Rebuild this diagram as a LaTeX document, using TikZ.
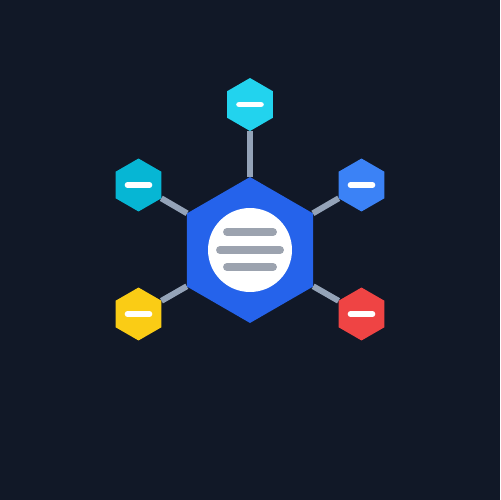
\documentclass[tikz,border=0pt]{standalone}
\usepackage{tikz}
\usetikzlibrary{shapes.geometric, calc}

\definecolor{bgnavy}{HTML}{111827}
\definecolor{hubblue}{HTML}{2563EB}
\definecolor{linkgray}{HTML}{94A3B8}
\definecolor{bargray}{HTML}{9CA3AF}
\definecolor{hexcyan}{HTML}{22D3EE}
\definecolor{hexteal}{HTML}{06B6D4}
\definecolor{hexblue}{HTML}{3B82F6}
\definecolor{hexyellow}{HTML}{FACC15}
\definecolor{hexred}{HTML}{EF4444}

\begin{document}
\begin{tikzpicture}[x=0.02cm, y=-0.02cm,
    hexa/.style={regular polygon, regular polygon sides=6, shape border rotate=30,
        inner sep=0pt, outer sep=0pt},
    hub/.style={hexa, fill=hubblue, minimum size=2.92cm},
    leaf/.style={hexa, fill=#1, minimum size=1.06cm},
    link/.style={linkgray, line width=3.4pt},
    bar/.style={line width=4.5pt, line cap=round, bargray},
    minusbar/.style={line width=3.2pt, line cap=round, white}]
				\fill[bgnavy] (0, 0) rectangle (500, 500);
				\node[hub] (C) at (250, 250) {};
				\node[leaf=hexcyan] (T) at (250, 104.5) {};
				\node[leaf=hexteal] (TL) at (138.5, 185) {};
				\node[leaf=hexblue] (TR) at (361.5, 185) {};
				\node[leaf=hexyellow] (BL) at (138.5, 314) {};
				\node[leaf=hexred] (BR) at (361.5, 314) {};
				\draw[link] (C) -- (T);
				\draw[link] (C) -- (TL);
				\draw[link] (C) -- (TR);
				\draw[link] (C) -- (BL);
				\draw[link] (C) -- (BR);
				\node[circle, fill=white, minimum size=1.68cm, inner sep=0pt] (M) at (C) {};
				\draw[bar] ($(M)+(-23, -18)$) -- ($(M)+(23, -18)$);
				\draw[bar] ($(M)+(-30, 0)$) -- ($(M)+(30, 0)$);
				\draw[bar] ($(M)+(-23, 17)$) -- ($(M)+(23, 17)$);
				\foreach \n in {T, TL, TR, BL, BR}
					\draw[minusbar] ($(\n)+(-11, 0)$) -- ($(\n)+(11, 0)$);
			\end{tikzpicture}
\end{document}
